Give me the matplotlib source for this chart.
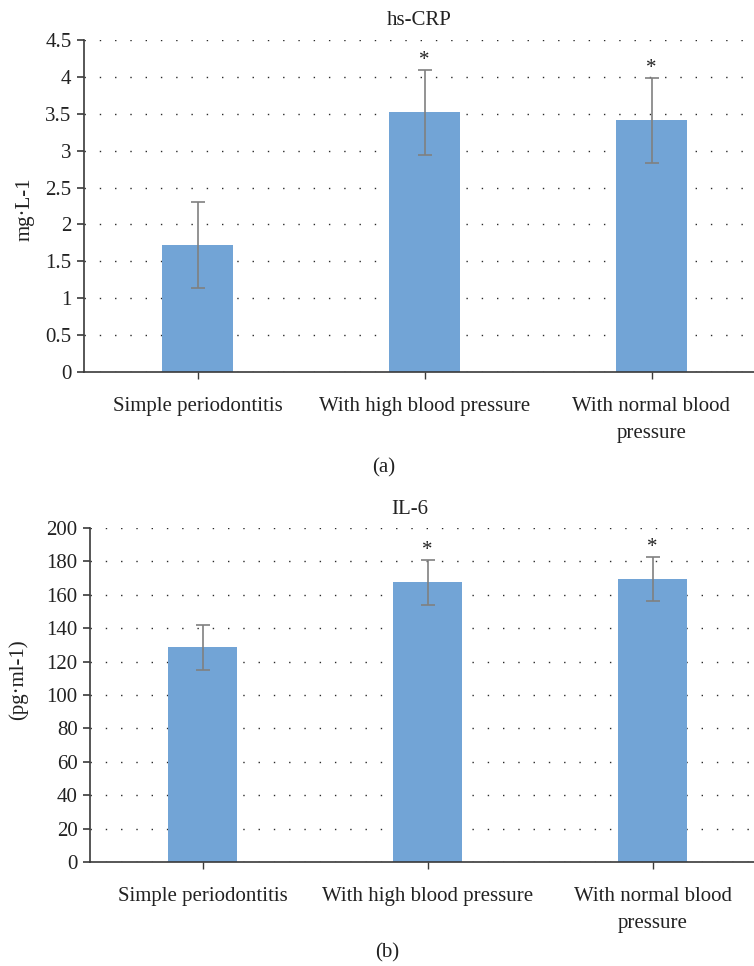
import numpy as np
import matplotlib
matplotlib.use("Agg")
import matplotlib.pyplot as plt

plt.rcParams['font.family'] = ['Liberation Serif', 'DejaVu Serif']

# datos
grupos = ["Simple periodontitis", "With high blood pressure", "With normal blood\npressure"]
crp_media = [1.72, 3.52, 3.41]
crp_error = [0.58, 0.58, 0.58]
crp_marca = ["", "*", "*"]
il6_media = [128.5, 167.5, 169.5]
il6_error = [13.3, 13.4, 13.2]
il6_marca = ["", "*", "*"]

color_barra = '#72a4d6'
color_error = '#808080'
color_eje = '#3a3a3a'
tam = 15

fig = plt.figure(figsize=(7.54, 9.66), dpi=100)
ax1 = fig.add_axes([84/754, (966-372)/966, (765-84)/754, 332/966])
ax2 = fig.add_axes([90/754, (966-862)/966, (765-90)/754, 334/966])


def dibujar(ax, medias, errores, marcas, ymax, paso, titulo, ylabel, tx, tpad, lx, ly, letra, letra_y):
    x = np.arange(len(grupos))
    ax.set_axisbelow(True)
    ax.yaxis.grid(True, color='#2a2a2a', linestyle=(0, (1, 10)), linewidth=1.0)
    ax.bar(x, medias, width=0.31, color=color_barra, zorder=2)
    ax.errorbar(x, medias, yerr=errores, fmt='none', ecolor=color_error,
                elinewidth=1.2, capsize=5, capthick=1.2, zorder=3)
    for xi, m, e, s in zip(x, medias, errores, marcas):
        if s:
            ax.annotate(s, (xi, m + e), xytext=(0, 0), textcoords='offset points',
                        ha='center', va='bottom', fontsize=tam, color='#222222')
    ax.set_xlim(-0.5, 2.5)
    ax.set_ylim(0, ymax)
    ax.set_yticks(np.arange(0, ymax + paso/2, paso))
    ax.set_yticklabels([f"{v:g}" for v in np.arange(0, ymax + paso/2, paso)])
    ax.set_xticks(x)
    ax.set_xticklabels(grupos, linespacing=1.58)
    for lado in ['top', 'right']:
        ax.spines[lado].set_visible(False)
    for lado in ['left', 'bottom']:
        ax.spines[lado].set_color(color_eje)
        ax.spines[lado].set_linewidth(1.2)
    ax.tick_params(axis='y', length=5, width=1.2, color=color_eje, pad=4,
                   labelsize=tam, labelcolor='#222222')
    ax.tick_params(axis='x', length=5, width=1.0, color=color_eje, pad=13,
                   labelsize=tam, labelcolor='#222222')
    ax.set_title(titulo, fontsize=tam, color='#222222', x=tx, pad=tpad)
    ax.set_ylabel(ylabel, fontsize=tam, color='#222222')
    ax.yaxis.set_label_coords(lx, ly)
    ax.text(0.44, letra_y, letra, transform=ax.transAxes, ha='center', va='center',
            fontsize=tam, color='#222222')


dibujar(ax1, crp_media, crp_error, crp_marca, 4.5, 0.5, "hs-CRP", "mg·L-1",
        0.492, 11, -0.072, 0.49, "(a)", -0.29)
dibujar(ax2, il6_media, il6_error, il6_marca, 200, 20, "IL-6", "(pg·ml-1)",
        0.474, 10, -0.092, 0.545, "(b)", -0.272)

fig.savefig("out.png", dpi=100)
plt.close(fig)
